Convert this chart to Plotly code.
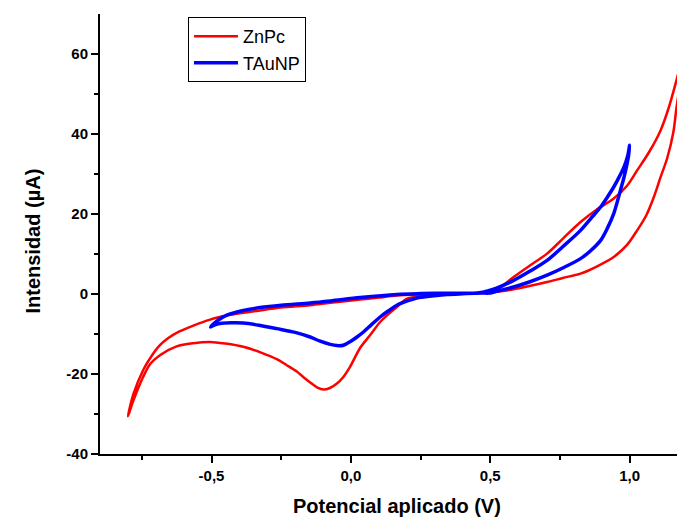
import plotly.graph_objects as go

# ---- data ----
# ZnPc: one cyclic voltammogram, forward then reverse sweep
znpc_v = [-0.80, -0.78, -0.745, -0.715, -0.685, -0.655, -0.625, -0.565, -0.505, -0.445,
          -0.385, -0.326, -0.25, -0.146, -0.074, 0.033, 0.10, 0.165, 0.25, 0.345,
          0.46, 0.52, 0.584, 0.64, 0.704, 0.76, 0.824, 0.88, 0.943, 0.99,
          1.027, 1.07, 1.111, 1.14, 1.168, 1.20,
          1.168, 1.157, 1.135, 1.111, 1.087, 1.06, 1.027, 0.99, 0.943, 0.88,
          0.824, 0.76, 0.704, 0.64, 0.56, 0.50, 0.42, 0.32, 0.25, 0.20,
          0.165, 0.135, 0.105, 0.07, 0.033, -0.003, -0.03, -0.05, -0.075, -0.098,
          -0.12, -0.146, -0.17, -0.194, -0.23, -0.266, -0.32, -0.386, -0.45, -0.505,
          -0.565, -0.625, -0.685, -0.72, -0.745, -0.78, -0.80]
znpc_i = [-30.6, -25.0, -19.0, -15.5, -12.8, -11.0, -9.7, -7.9, -6.4, -5.4,
          -4.7, -4.1, -3.4, -2.8, -2.2, -1.4, -0.9, -0.4, -0.1, 0.1,
          0.2, 1.0, 4.25, 7.0, 10.1, 13.8, 18.0, 21.0, 23.85, 27.0,
          30.9, 35.5, 40.9, 46.5, 53.4, 62.0,
          46.5, 40.5, 34.0, 29.2, 24.25, 19.7, 15.9, 12.2, 9.25, 6.8,
          5.1, 4.0, 3.0, 2.0, 0.9, 0.4, 0.1, -0.2, -0.6, -1.2,
          -3.25, -5.0, -7.0, -10.2, -13.5, -18.2, -21.0, -22.4, -23.5, -23.9,
          -23.4, -22.1, -20.8, -19.4, -17.8, -16.3, -14.7, -13.2, -12.4, -12.0,
          -12.3, -13.1, -15.3, -17.5, -20.7, -26.6, -30.6]

# TAuNP: cyclic voltammogram between -0.5 V and 1.0 V
taunp_v = [-0.503, -0.475, -0.445, -0.39, -0.326, -0.25, -0.146, -0.074, 0.033, 0.165,
           0.25, 0.345, 0.46, 0.52, 0.584, 0.64, 0.704, 0.76, 0.824, 0.865,
           0.896, 0.92, 0.943, 0.965, 0.98, 0.993, 1.0,
           0.996, 0.991, 0.98, 0.967, 0.943, 0.92, 0.896, 0.86, 0.824,
           0.76, 0.704, 0.64, 0.584, 0.53, 0.5, 0.464, 0.40, 0.345, 0.29,
           0.237, 0.2, 0.165, 0.135, 0.105, 0.075, 0.045, 0.022, 0.0, -0.027,
           -0.05, -0.074, -0.11, -0.146, -0.2, -0.266, -0.33, -0.386, -0.43, -0.47,
           -0.49, -0.503]
taunp_i = [-8.25, -6.5, -5.3, -4.2, -3.4, -2.8, -2.25, -1.75, -0.9, -0.1,
           0.1, 0.2, 0.3, 1.4, 3.4, 5.6, 8.4, 11.8, 15.9, 19.2,
           21.75, 24.2, 26.75, 29.6, 31.75, 34.5, 37.2,
           34.5, 32.6, 29.2, 25.9, 20.1, 16.4, 13.4, 10.8, 8.85,
           6.5, 4.7, 3.0, 1.75, 0.8, 0.25, 0.25, 0.05, -0.15, -0.5,
           -1.0, -1.8, -2.8, -4.2, -5.75, -7.6, -9.5, -10.75, -11.8, -12.8,
           -12.9, -12.6, -11.8, -10.75, -9.6, -8.65, -7.8, -7.25, -7.2, -7.4,
           -7.8, -8.25]

x_tick_vals = [-0.5, 0.0, 0.5, 1.0]
x_tick_text = ["-0,5", "0,0", "0,5", "1,0"]
x_minor_vals = [-0.75, -0.25, 0.25, 0.75]
y_tick_vals = [-40, -20, 0, 20, 40, 60]
y_tick_text = ["-40", "-20", "0", "20", "40", "60"]
y_minor_vals = [-30, -10, 10, 30, 50]

FONT = "Arial, Liberation Sans, sans-serif"

fig = go.Figure()
fig.add_trace(go.Scatter(x=znpc_v, y=znpc_i, mode="lines", name="ZnPc",
                         line=dict(color="#ff0000", width=2.5, shape="spline", smoothing=0.9)))
fig.add_trace(go.Scatter(x=taunp_v, y=taunp_i, mode="lines", name="TAuNP",
                         line=dict(color="#0000ff", width=3.5, shape="spline", smoothing=0.9)))

axis_common = dict(showgrid=False, zeroline=False, showline=True, linecolor="black",
                   linewidth=2, ticks="outside", ticklen=7, tickwidth=1.5,
                   tickcolor="black",
                   tickfont=dict(family=FONT, size=15, color="black", weight="bold"))

fig.update_xaxes(range=[-0.9, 1.17], tickmode="array", tickvals=x_tick_vals,
                 ticktext=x_tick_text,
                 minor=dict(tickmode="array", tickvals=x_minor_vals, ticks="outside",
                            ticklen=4, tickwidth=1.5, tickcolor="black"),
                 **axis_common)
fig.update_yaxes(range=[-40, 70], tickmode="array", tickvals=y_tick_vals,
                 ticktext=y_tick_text,
                 minor=dict(tickmode="array", tickvals=y_minor_vals, ticks="outside",
                            ticklen=4, tickwidth=1.5, tickcolor="black"),
                 **axis_common)

fig.update_layout(
    width=677, height=519,
    margin=dict(l=100, r=0, t=14, b=65),
    plot_bgcolor="white", paper_bgcolor="white",
    font=dict(family=FONT, color="black"),
    showlegend=True,
    legend=dict(x=0.1525, y=0.993, xanchor="left", yanchor="top",
                bgcolor="white", bordercolor="black", borderwidth=1,
                font=dict(family=FONT, size=18, color="black"),
                tracegroupgap=0, itemwidth=44),
    annotations=[
        dict(text="Intensidad (µA)", xref="paper", yref="paper", x=-0.116, y=0.483,
             xanchor="center", yanchor="middle", textangle=-90, showarrow=False,
             font=dict(family=FONT, size=20, color="black", weight="bold")),
        dict(text="Potencial aplicado (V)", xref="paper", yref="paper", x=0.515, y=-0.118,
             xanchor="center", yanchor="middle", showarrow=False,
             font=dict(family=FONT, size=20, color="black", weight="bold")),
    ],
)

# remove the default 8 px page margin so the figure fills the window exactly
fig.write_html("out.html", config={"displayModeBar": False},
               post_script="document.body.style.margin='0';")
